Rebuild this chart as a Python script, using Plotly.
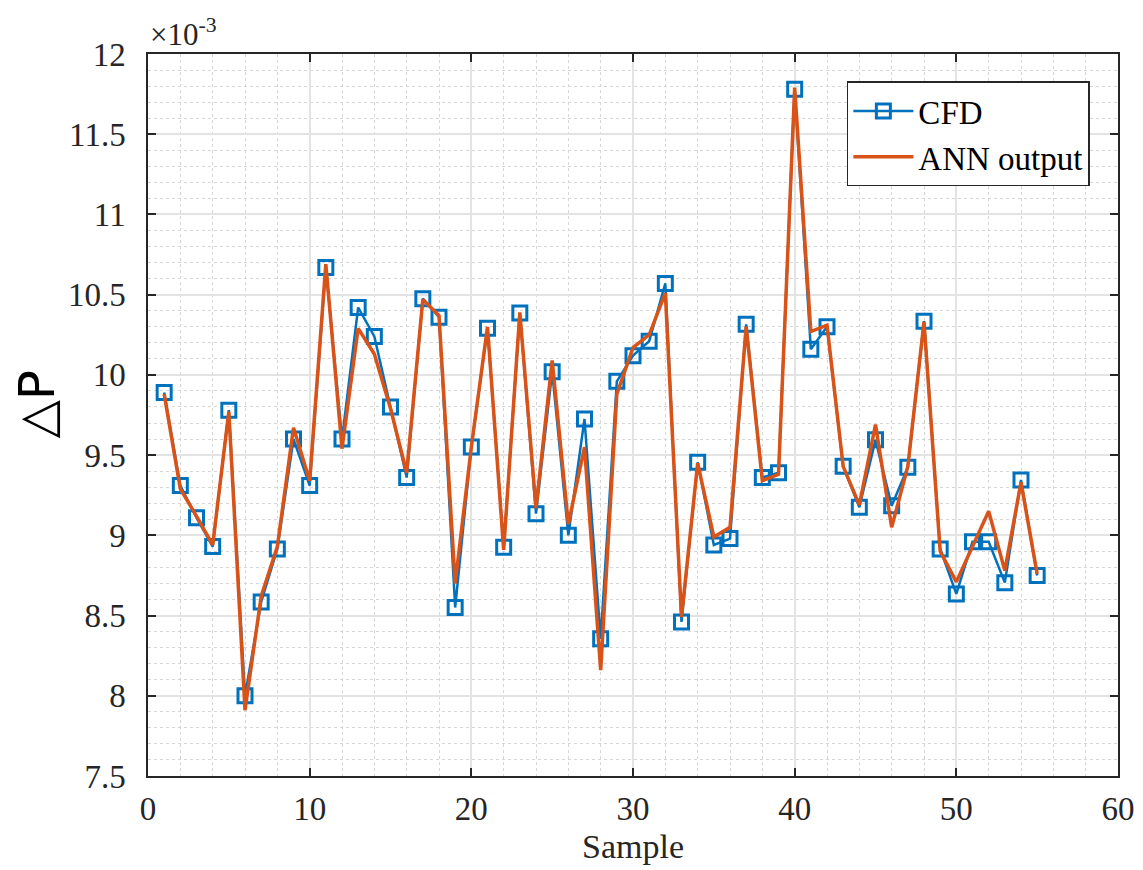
import plotly.graph_objects as go

# sample index and pressure drop values (x 10^-3)
samples = list(range(1, 56))

cfd = [9.89, 9.31, 9.11, 8.93, 9.78, 8.00, 8.585, 8.915, 9.60, 9.31,
       10.67, 9.60, 10.42, 10.24, 9.80, 9.36, 10.475, 10.36, 8.55, 9.55,
       10.29, 8.925, 10.385, 9.135, 10.02, 9.00, 9.725, 8.355, 9.96, 10.12,
       10.21, 10.57, 8.46, 9.455, 8.94, 8.98, 10.315, 9.36, 9.39, 11.78,
       10.16, 10.30, 9.43, 9.175, 9.595, 9.185, 9.425, 10.335, 8.915, 8.635,
       8.96, 8.96, 8.705, 9.345, 8.75]

ann = [9.88, 9.29, 9.12, 8.94, 9.77, 7.91, 8.62, 8.93, 9.67, 9.34,
       10.69, 9.54, 10.29, 10.13, 9.79, 9.39, 10.47, 10.37, 8.70, 9.55,
       10.30, 8.91, 10.39, 9.17, 10.09, 9.07, 9.55, 8.16, 9.88, 10.17,
       10.25, 10.51, 8.49, 9.45, 8.99, 9.05, 10.30, 9.34, 9.38, 11.79,
       10.27, 10.31, 9.43, 9.19, 9.69, 9.05, 9.43, 10.33, 8.90, 8.71,
       8.93, 9.15, 8.78, 9.33, 8.76]

x_ticks = [0, 10, 20, 30, 40, 50, 60]
y_ticks = [7.5, 8, 8.5, 9, 9.5, 10, 10.5, 11, 11.5, 12]
y_ticktext = ['7.5', '8', '8.5', '9', '9.5', '10', '10.5', '11', '11.5', '12']

blue = '#0072BD'
orange = '#D95319'
axcol = '#262626'
serif = 'Liberation Serif, Times New Roman, serif'

fig = go.Figure()

fig.add_trace(go.Scatter(
    x=samples, y=cfd, name='CFD',
    mode='lines+markers',
    line=dict(color=blue, width=2.5),
    marker=dict(symbol='square-open', size=14, color=blue,
                line=dict(width=3, color=blue))
))

fig.add_trace(go.Scatter(
    x=samples, y=ann, name='ANN output',
    mode='lines',
    line=dict(color=orange, width=3.5)
))

axis_common = dict(
    showline=True, linecolor=axcol, linewidth=1.5, mirror='allticks',
    ticks='inside', ticklen=8, tickcolor=axcol, tickwidth=1.5,
    showgrid=True, gridcolor='#e3e3e3', gridwidth=1.5,
    zeroline=False, automargin=False,
    tickfont=dict(family=serif, size=33, color=axcol),
)

fig.update_xaxes(
    range=[0, 60], tickvals=x_ticks, ticklabelstandoff=3,
    minor=dict(dtick=2, showgrid=True, griddash='dot', gridcolor='#d6d6d6', gridwidth=1),
    title=dict(text='Sample', font=dict(family=serif, size=34, color=axcol), standoff=8),
    **axis_common
)
fig.update_yaxes(
    range=[7.5, 12], tickvals=y_ticks, ticktext=y_ticktext, ticklabelstandoff=14,
    minor=dict(dtick=0.1, tick0=7.5, showgrid=True, griddash='dot', gridcolor='#d6d6d6', gridwidth=1),
    **axis_common
)

# y label and exponent marker
fig.add_annotation(
    text='△P', xref='paper', yref='paper', x=-0.114, y=0.515,
    xanchor='center', yanchor='middle',
    textangle=-90, showarrow=False,
    font=dict(family='DejaVu Sans, Liberation Sans', size=50, color='black')
)
fig.add_annotation(
    text='×10<sup>-3</sup>', xref='paper', yref='paper', x=0.0, y=1.0,
    xanchor='left', yanchor='bottom', yshift=0, showarrow=False,
    font=dict(family=serif, size=31, color=axcol)
)

# page body adds an 8px offset, so the figure is drawn 8px smaller
fig.update_layout(
    width=1135, height=862,
    margin=dict(l=140, r=25, t=46, b=94),
    paper_bgcolor='white', plot_bgcolor='white',
    legend=dict(
        x=0.971, y=0.962, xanchor='right', yanchor='top',
        bgcolor='white', bordercolor=axcol, borderwidth=1.5,
        font=dict(family=serif, size=33, color='black'),
        tracegroupgap=0, itemwidth=60,
    ),
)

fig.write_html('out.html')
